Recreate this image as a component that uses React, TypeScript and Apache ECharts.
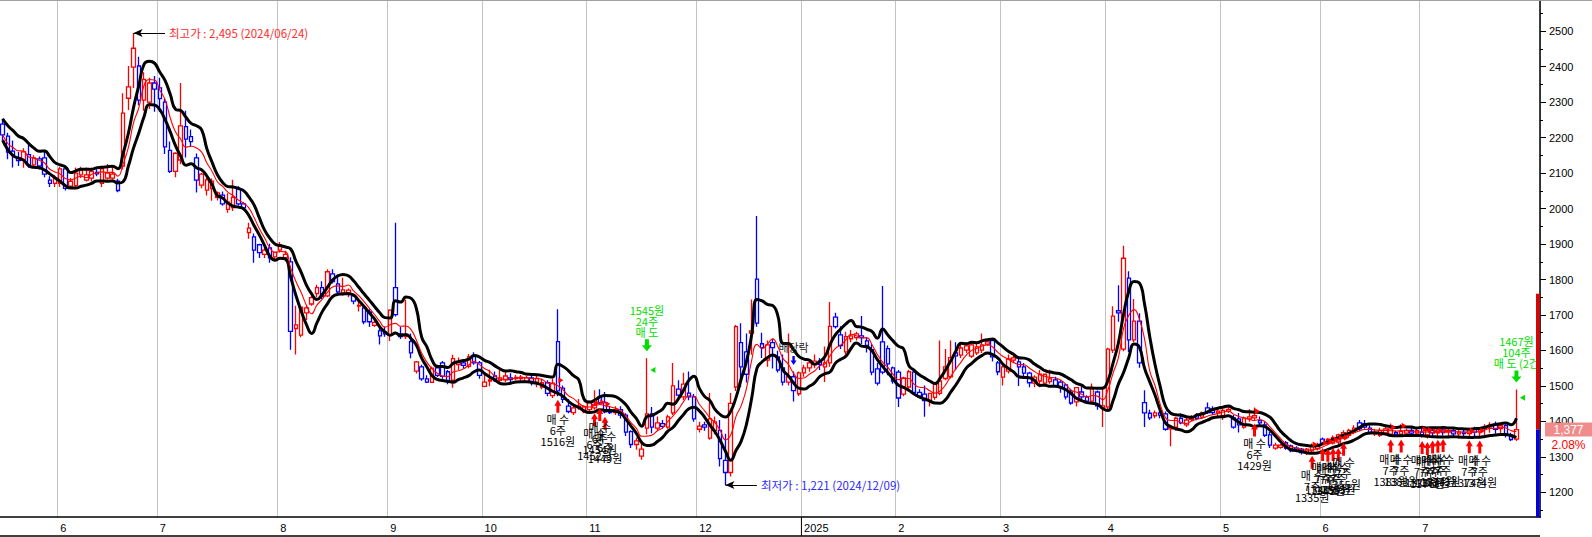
import React, { useEffect, useRef } from "react";
import * as echarts from "echarts";

// ---- calendar (month label, trading days shown) ----
const monthLabels = ["5", "6", "7", "8", "9", "10", "11", "12", "2025", "2", "3", "4", "5", "6", "7"];
const monthTradingDays = [11, 19, 23, 21, 18, 20, 21, 20, 18, 20, 20, 22, 19, 19, 19];
const emptySlots = 4;

// ---- OHLC ----
const opens = [
  2238,2204,2162,2143,2137,2152,2123,2140,2143,2080,
  2071,2071,2112,2063,2065,2095,2080,2086,2102,2071,
  2086,2086,2077,2120,2311,2399,2402,2306,2300,2354,
  2340,2300,2164,2105,2137,2231,2203,2143,2066,2052,
  2057,2032,2038,1998,2003,2056,2013,1932,1920,1898,
  1871,1889,1864,1883,1861,1850,1662,1643,1706,1731,
  1760,1777,1754,1816,1788,1762,1763,1754,1725,1720,
  1709,1671,1655,1652,1643,1777,1647,1639,1625,1542,
  1554,1520,1510,1551,1565,1540,1516,1560,1565,1555,
  1583,1565,1499,1514,1528,1516,1517,1523,1521,1521,
  1512,1523,1511,1497,1509,1473,1625,1494,1443,1425,
  1439,1428,1433,1438,1467,1453,1433,1425,1433,1418,
  1371,1335,1302,1381,1421,1381,1394,1384,1424,1491,
  1469,1480,1469,1378,1390,1353,1374,1375,1290,1256,
  1497,1622,1596,1649,1801,1619,1573,1622,1582,1551,
  1511,1526,1478,1537,1551,1560,1570,1554,1565,1694,
  1644,1596,1633,1636,1641,1627,1602,1548,1624,1605,
  1551,1539,1477,1497,1539,1482,1477,1458,1468,1479,
  1521,1526,1593,1587,1601,1584,1593,1601,1618,1628,
  1565,1525,1542,1573,1568,1554,1536,1508,1514,1508,
  1512,1517,1511,1503,1483,1455,1483,1469,1457,1483,
  1438,1441,1601,1712,1604,1804,1630,1683,1453,1423,
  1416,1424,1421,1379,1384,1409,1390,1406,1418,1412,
  1438,1435,1424,1416,1429,1410,1407,1384,1407,1410,
  1402,1390,1362,1325,1327,1340,1331,1325,1322,1311,
  1317,1323,1350,1338,1339,1342,1355,1361,1369,1396,
  1394,1381,1364,1361,1367,1364,1369,1364,1367,1375,
  1367,1370,1362,1375,1368,1376,1370,1374,1365,1370,
  1366,1378,1370,1379,1385,1392,1380,1388,1362,1350,
];
const highs = [
  2253,2214,2192,2160,2170,2180,2150,2147,2166,2091,
  2094,2118,2118,2086,2116,2118,2116,2116,2111,2121,
  2126,2121,2084,2325,2402,2495,2428,2384,2369,2374,
  2369,2310,2189,2159,2354,2276,2223,2155,2101,2087,
  2085,2048,2048,2043,2081,2063,2018,1960,1930,1901,
  1891,1901,1879,1906,1881,1863,1726,1726,1726,1756,
  1785,1795,1829,1829,1814,1805,1775,1760,1737,1722,
  1716,1686,1672,1667,1716,1960,1667,1743,1648,1570,
  1560,1530,1555,1560,1570,1545,1588,1580,1575,1590,
  1595,1570,1531,1546,1541,1551,1541,1536,1531,1531,
  1529,1536,1531,1521,1516,1521,1716,1501,1463,1443,
  1463,1445,1458,1488,1491,1483,1443,1443,1443,1423,
  1375,1355,1337,1578,1441,1414,1404,1419,1565,1516,
  1537,1541,1477,1399,1399,1480,1414,1404,1365,1480,
  1672,1677,1648,1744,1979,1650,1628,1633,1599,1589,
  1648,1541,1541,1560,1575,1589,1579,1611,1737,1706,
  1668,1653,1658,1653,1697,1638,1619,1565,1782,1614,
  1555,1545,1526,1546,1550,1491,1501,1481,1511,1628,
  1604,1628,1623,1618,1623,1623,1623,1648,1633,1633,
  1570,1565,1589,1589,1584,1565,1540,1530,1545,1535,
  1546,1526,1516,1506,1492,1497,1502,1474,1507,1487,
  1498,1608,1725,1784,1895,1823,1745,1705,1488,1433,
  1431,1433,1428,1389,1413,1423,1413,1418,1423,1428,
  1453,1443,1439,1439,1444,1419,1424,1414,1434,1439,
  1414,1399,1370,1340,1337,1345,1335,1330,1325,1325,
  1338,1340,1355,1353,1360,1365,1375,1379,1389,1404,
  1404,1389,1379,1382,1384,1394,1374,1392,1379,1382,
  1380,1385,1382,1383,1380,1385,1378,1380,1375,1376,
  1382,1385,1383,1392,1398,1400,1395,1392,1368,1490,
];
const lows = [
  2193,2139,2116,2120,2115,2115,2115,2110,2088,2061,
  2061,2061,2051,2056,2061,2086,2076,2076,2091,2061,
  2081,2081,2046,2110,2278,2340,2291,2276,2281,2273,
  2273,2154,2100,2088,2125,2144,2174,2045,2057,2037,
  2022,2023,2008,1988,1993,2008,1998,1915,1847,1861,
  1861,1847,1856,1876,1851,1602,1589,1637,1686,1726,
  1750,1745,1750,1789,1757,1755,1750,1730,1710,1674,
  1666,1666,1617,1639,1627,1696,1632,1632,1578,1535,
  1515,1508,1508,1525,1520,1505,1495,1545,1550,1550,
  1560,1520,1496,1499,1511,1509,1511,1509,1516,1515,
  1509,1501,1496,1491,1471,1466,1471,1452,1423,1418,
  1433,1423,1428,1433,1448,1423,1421,1418,1408,1359,
  1325,1320,1292,1364,1367,1374,1379,1379,1418,1462,
  1460,1460,1399,1369,1374,1348,1364,1273,1221,1245,
  1486,1497,1510,1588,1667,1579,1554,1549,1538,1501,
  1501,1456,1472,1526,1540,1550,1545,1511,1554,1662,
  1604,1589,1623,1628,1618,1594,1530,1501,1533,1530,
  1506,1441,1471,1491,1476,1466,1413,1442,1461,1474,
  1516,1521,1545,1579,1593,1579,1587,1593,1613,1569,
  1530,1501,1535,1564,1500,1520,1496,1496,1496,1501,
  1506,1496,1481,1462,1447,1442,1462,1452,1452,1433,
  1384,1433,1593,1681,1598,1596,1623,1551,1384,1404,
  1409,1409,1374,1330,1374,1392,1384,1401,1403,1408,
  1421,1418,1414,1404,1424,1379,1369,1379,1399,1404,
  1389,1356,1325,1320,1323,1320,1313,1313,1307,1305,
  1313,1318,1335,1333,1335,1335,1350,1354,1364,1374,
  1379,1364,1359,1356,1364,1359,1359,1359,1362,1362,
  1360,1355,1352,1356,1358,1360,1356,1354,1352,1355,
  1357,1358,1356,1362,1368,1365,1366,1355,1345,1345,
];
const closes = [
  2208,2159,2150,2135,2160,2123,2143,2120,2097,2071,
  2086,2112,2057,2077,2100,2109,2095,2104,2098,2112,
  2100,2097,2051,2269,2343,2452,2306,2364,2354,2337,
  2310,2174,2105,2156,2233,2196,2189,2080,2097,2081,
  2077,2044,2013,2018,2032,2013,2002,1945,1883,1876,
  1883,1861,1877,1898,1871,1654,1672,1722,1720,1749,
  1777,1752,1822,1794,1765,1771,1770,1739,1727,1681,
  1681,1679,1641,1647,1714,1701,1639,1643,1593,1568,
  1520,1511,1550,1530,1527,1514,1577,1565,1558,1582,
  1565,1530,1511,1517,1515,1523,1528,1518,1524,1525,
  1523,1513,1521,1509,1479,1508,1486,1462,1428,1438,
  1443,1441,1453,1448,1453,1427,1425,1433,1418,1370,
  1335,1345,1322,1421,1384,1396,1386,1413,1500,1474,
  1505,1469,1407,1387,1384,1407,1399,1295,1256,1451,
  1667,1554,1533,1655,1677,1608,1616,1608,1545,1511,
  1526,1487,1537,1551,1565,1570,1561,1565,1668,1667,
  1614,1639,1641,1647,1636,1614,1539,1508,1539,1562,
  1514,1466,1523,1540,1482,1471,1459,1479,1508,1514,
  1554,1580,1585,1607,1613,1616,1610,1616,1624,1582,
  1540,1554,1576,1579,1554,1536,1509,1525,1533,1533,
  1520,1501,1497,1469,1452,1495,1469,1457,1492,1444,
  1444,1604,1697,1706,1860,1630,1683,1565,1424,1410,
  1424,1418,1378,1384,1409,1396,1404,1412,1409,1424,
  1425,1425,1429,1431,1434,1384,1390,1410,1413,1416,
  1396,1361,1333,1333,1333,1325,1318,1317,1312,1322,
  1331,1335,1339,1349,1354,1362,1368,1375,1381,1379,
  1384,1369,1367,1375,1379,1379,1364,1372,1375,1367,
  1374,1362,1375,1368,1376,1370,1374,1365,1370,1366,
  1378,1370,1379,1385,1390,1378,1388,1365,1349,1377,
];

// ---- trades ----
const buyIdx = [106, 113, 114, 115, 239, 250, 252, 253, 254, 255, 256, 265, 267, 271, 272, 273, 274, 275, 280, 282];
const buyPrice = [1516, 1452, 1454, 1449, 1429, 1335, 1340, 1345, 1350, 1353, 1355, 1383, 1388, 1378, 1376, 1372, 1374, 1373, 1374, 1374];
const buyQty = [6, 6, 6, 6, 6, 7, 7, 7, 7, 7, 7, 7, 7, 7, 7, 7, 7, 7, 7, 7];
const sellIdx = [123, 289];
const sellPrice = [1545, 1467];
const sellQty = [24, 104];
const sellNote = ["", " (2건"];
const exDividendIdx = 151;
const highDateText = "2024/06/24";
const lowDateText = "2024/12/09";

// ---- price axis ----
const yMin = 1130;
const yMax = 2588;
const yTickValues = [1200, 1300, 1400, 1500, 1600, 1700, 1800, 1900, 2000, 2100, 2200, 2300, 2400, 2500];
const yMinorValues = [1150, 1250, 1350, 1450, 1550, 1650, 1750, 1850, 1950, 2050, 2150, 2250, 2350, 2450, 2550];
const axisBarHigh = 1760;
const axisBarLow = yMin;

const axisFont = "'Liberation Sans', 'Noto Sans CJK KR', sans-serif";
const krFont = "'Noto Sans CJK KR', 'Liberation Sans', sans-serif";

function sma(src: number[], n: number) {
  return src.map((_, i) => {
    const s = Math.max(0, i - n + 1);
    let t = 0;
    for (let j = s; j <= i; j++) t += src[j];
    return +(t / (i - s + 1)).toFixed(1);
  });
}

function fmtThousands(v: number) {
  return v.toString().replace(/\B(?=(\d{3})+(?!\d))/g, ",");
}

export default function App() {
  const ref = useRef<HTMLDivElement>(null);

  useEffect(() => {
    if (!ref.current) return;
    const categories: string[] = [];
    const monthStart = new Map<number, string>();
    monthLabels.forEach((m, k) => {
      monthStart.set(categories.length, m);
      for (let d = 0; d < monthTradingDays[k]; d++) categories.push(`${k}-${m}-${d + 1}`);
    });
    for (let j = 0; j < emptySlots; j++) categories.push(`blank-${j}`);
    const isMonthTick = (index: number) => index > 0 && monthStart.has(index);

    const candleData = opens.map((o, i) => [o, closes[i], lows[i], highs[i]]);
    const upper = sma(highs, 5);
    const lower = sma(lows, 5);
    const mid = sma(closes, 5);

    let maxI = 0;
    let minI = 0;
    highs.forEach((h, i) => { if (h > highs[maxI]) maxI = i; });
    lows.forEach((l, i) => { if (l < lows[minI]) minI = i; });

    const arrowUp = "path://M3.5,0 L7,6 L5,6 L5,13 L2,13 L2,6 L0,6 Z";
    const arrowDown = "path://M3,0 L7,0 L7,6 L10,6 L5,12 L0,6 L3,6 Z";
    const green = "#00dd00";

    const markPoints: any[] = [];
    buyIdx.forEach((idx, k) => {
      markPoints.push({
        coord: [idx, buyPrice[k]],
        symbol: "triangle",
        symbolRotate: -90,
        symbolSize: [6, 5],
        symbolOffset: [3, 0],
        itemStyle: { color: "#ff0000" },
        label: { show: false },
      });
      markPoints.push({
        coord: [idx, lows[idx]],
        symbol: arrowUp,
        symbolSize: [7, 13],
        symbolOffset: [0, 10],
        itemStyle: { color: "#ff0000" },
        label: {
          show: true,
          position: "bottom",
          distance: 1,
          formatter: `매 수\n${buyQty[k]}주\n${buyPrice[k]}원`,
          color: "#000",
          fontSize: 11,
          lineHeight: 11,
          fontFamily: krFont,
        },
      });
    });
    sellIdx.forEach((idx, k) => {
      markPoints.push({
        coord: [idx, highs[idx]],
        symbol: arrowDown,
        symbolSize: [10, 12],
        symbolOffset: [0, -13],
        itemStyle: { color: green },
        label: {
          show: true,
          position: "top",
          distance: 2,
          formatter: `${sellPrice[k]}원\n${sellQty[k]}주\n매 도${sellNote[k]}`,
          color: green,
          fontSize: 11,
          lineHeight: 11,
          fontFamily: krFont,
        },
      });
      markPoints.push({
        coord: [idx, sellPrice[k]],
        symbol: "triangle",
        symbolRotate: 90,
        symbolSize: [6, 5],
        symbolOffset: [6, 0],
        itemStyle: { color: green },
        label: { show: false },
      });
    });
    markPoints.push({
      coord: [exDividendIdx, highs[exDividendIdx]],
      symbol: arrowDown,
      symbolSize: [6, 9],
      symbolOffset: [0, -11],
      itemStyle: { color: "#0000ff" },
      label: {
        show: true,
        position: "top",
        distance: 3,
        formatter: "배당락",
        color: "#222",
        fontSize: 11,
        fontFamily: krFont,
      },
    });

    const option: any = {
      animation: false,
      backgroundColor: "#ffffff",
      textStyle: { fontFamily: axisFont },
      grid: { left: 0, right: 52, top: 0, bottom: 19.8 },
      xAxis: {
        type: "category",
        data: categories,
        boundaryGap: true,
        axisLine: { show: true, lineStyle: { color: "#000", width: 1.5 } },
        axisTick: { show: false },
        axisLabel: {
          interval: (index: number) => isMonthTick(index),
          formatter: (_v: string, index: number) => monthStart.get(index) ?? "",
          align: "left",
          margin: 5,
          color: "#000",
          fontSize: 11,
          fontFamily: axisFont,
        },
        splitLine: {
          show: true,
          interval: (index: number) => isMonthTick(index),
          lineStyle: { color: "#c4c4c4", width: 1 },
        },
      },
      yAxis: [
        {
          type: "value",
          position: "right",
          min: yMin,
          max: yMax,
          axisLine: { show: true, lineStyle: { color: "#000", width: 1.5 } },
          axisTick: { show: true, length: 6, customValues: yTickValues, lineStyle: { color: "#000" } },
          axisLabel: {
            customValues: yTickValues,
            formatter: (v: number) => String(v),
            margin: 9,
            color: "#000",
            fontSize: 11,
            fontFamily: axisFont,
          },
          splitLine: { show: false },
        },
        {
          type: "value",
          position: "right",
          min: yMin,
          max: yMax,
          axisLine: { show: false },
          axisTick: { show: true, length: 3, customValues: yMinorValues, lineStyle: { color: "#000" } },
          axisLabel: { show: false },
          splitLine: { show: false },
        },
      ],
      series: [
        {
          type: "candlestick",
          data: candleData,
          barWidth: 4,
          z: 2,
          itemStyle: {
            color: "rgba(255,255,255,0)",
            color0: "rgba(255,255,255,0)",
            borderColor: "#ff0000",
            borderColor0: "#0000ff",
            borderWidth: 1.3,
          },
          markPoint: { silent: true, animation: false, data: markPoints },
          markLine: {
            silent: true,
            animation: false,
            symbolSize: [6, 9],
            lineStyle: { color: "#000", width: 1, type: "solid" },
            data: [
              [
                {
                  coord: [maxI, highs[maxI]],
                  symbol: "arrow",
                  label: {
                    show: true,
                    position: "end",
                    distance: 4,
                    formatter: `최고가 : ${fmtThousands(highs[maxI])} (${highDateText})`,
                    color: "#ff2a2a",
                    fontSize: 11.5,
                    fontFamily: krFont,
                  },
                  lineStyle: { color: "#000", width: 1, type: "solid" },
                },
                { coord: [maxI + 6, highs[maxI]], symbol: "none" },
              ],
              [
                {
                  coord: [minI, lows[minI]],
                  symbol: "arrow",
                  label: {
                    show: true,
                    position: "end",
                    distance: 4,
                    formatter: `최저가 : ${fmtThousands(lows[minI])} (${lowDateText})`,
                    color: "#2a2aff",
                    fontSize: 11.5,
                    fontFamily: krFont,
                  },
                  lineStyle: { color: "#000", width: 1, type: "solid" },
                },
                { coord: [minI + 6, lows[minI]], symbol: "none" },
              ],
            ],
          },
        },
        {
          type: "line",
          data: upper,
          symbol: "none",
          smooth: 0.5,
          z: 3,
          lineStyle: { color: "#000", width: 3 },
        },
        {
          type: "line",
          data: lower,
          symbol: "none",
          smooth: 0.5,
          z: 3,
          lineStyle: { color: "#000", width: 3 },
        },
        {
          type: "line",
          data: mid,
          symbol: "none",
          smooth: 0.5,
          z: 4,
          lineStyle: { color: "#ff0000", width: 1.1 },
        },
      ],
    };

    const chart = echarts.init(ref.current, null, { renderer: "svg" });
    chart.setOption(option);

    const W = chart.getWidth();
    const H = chart.getHeight();
    const xPix = (i: number) => chart.convertToPixel({ xAxisIndex: 0 }, i) as number;
    const yPix = (v: number) => chart.convertToPixel({ yAxisIndex: 0 }, v) as number;
    const band = xPix(1) - xPix(0);
    const right = xPix(categories.length - 1) + band / 2;
    const axisBottom = yPix(yMin);
    const last = closes[closes.length - 1];
    const prev = closes[closes.length - 2];
    const pct = ((last - prev) / prev) * 100;
    let yearIdx = 0;
    monthStart.forEach((m, idx) => { if (m.length === 4) yearIdx = idx; });
    const yearX = xPix(yearIdx) - band / 2;
    const yLast = yPix(last);

    chart.setOption({
      graphic: [
        { type: "line", shape: { x1: 0, y1: 0.5, x2: W, y2: 0.5 }, style: { stroke: "#a0a0a0", lineWidth: 1 }, z: 10 },
        { type: "line", shape: { x1: 0, y1: H - 1, x2: right, y2: H - 1 }, style: { stroke: "#000", lineWidth: 1.5 }, z: 10 },
        { type: "line", shape: { x1: yearX, y1: axisBottom, x2: yearX, y2: H - 1 }, style: { stroke: "#000", lineWidth: 1 }, z: 10 },
        {
          type: "rect",
          shape: { x: right - 4, y: yPix(axisBarHigh), width: 3.5, height: yLast - yPix(axisBarHigh) },
          style: { fill: "#e00000" },
          z: 10,
        },
        {
          type: "rect",
          shape: { x: right - 4, y: yLast, width: 3.5, height: yPix(axisBarLow) - yLast },
          style: { fill: "#0000e0" },
          z: 10,
        },
        {
          type: "rect",
          shape: { x: right + 5, y: yLast - 7, width: W - right - 5, height: 14 },
          style: { fill: "#f08c8c" },
          z: 10,
        },
        {
          type: "text",
          x: right + 5 + (W - right - 5) / 2,
          y: yLast,
          style: {
            text: fmtThousands(last),
            fill: "#fff",
            fontSize: 12,
            fontFamily: axisFont,
            align: "center",
            verticalAlign: "middle",
          },
          z: 11,
        },
        {
          type: "text",
          x: right + 5 + (W - right - 5) / 2,
          y: yLast + 15,
          style: {
            text: `${pct.toFixed(2)}%`,
            fill: "#ff0000",
            fontSize: 12,
            fontFamily: axisFont,
            align: "center",
            verticalAlign: "middle",
          },
          z: 11,
        },
      ],
    });

    return () => chart.dispose();
  }, []);

  return (
    <div
      ref={ref}
      style={{ position: "fixed", left: 0, top: 0, width: 1592, height: 537, background: "#fff" }}
    />
  );
}
